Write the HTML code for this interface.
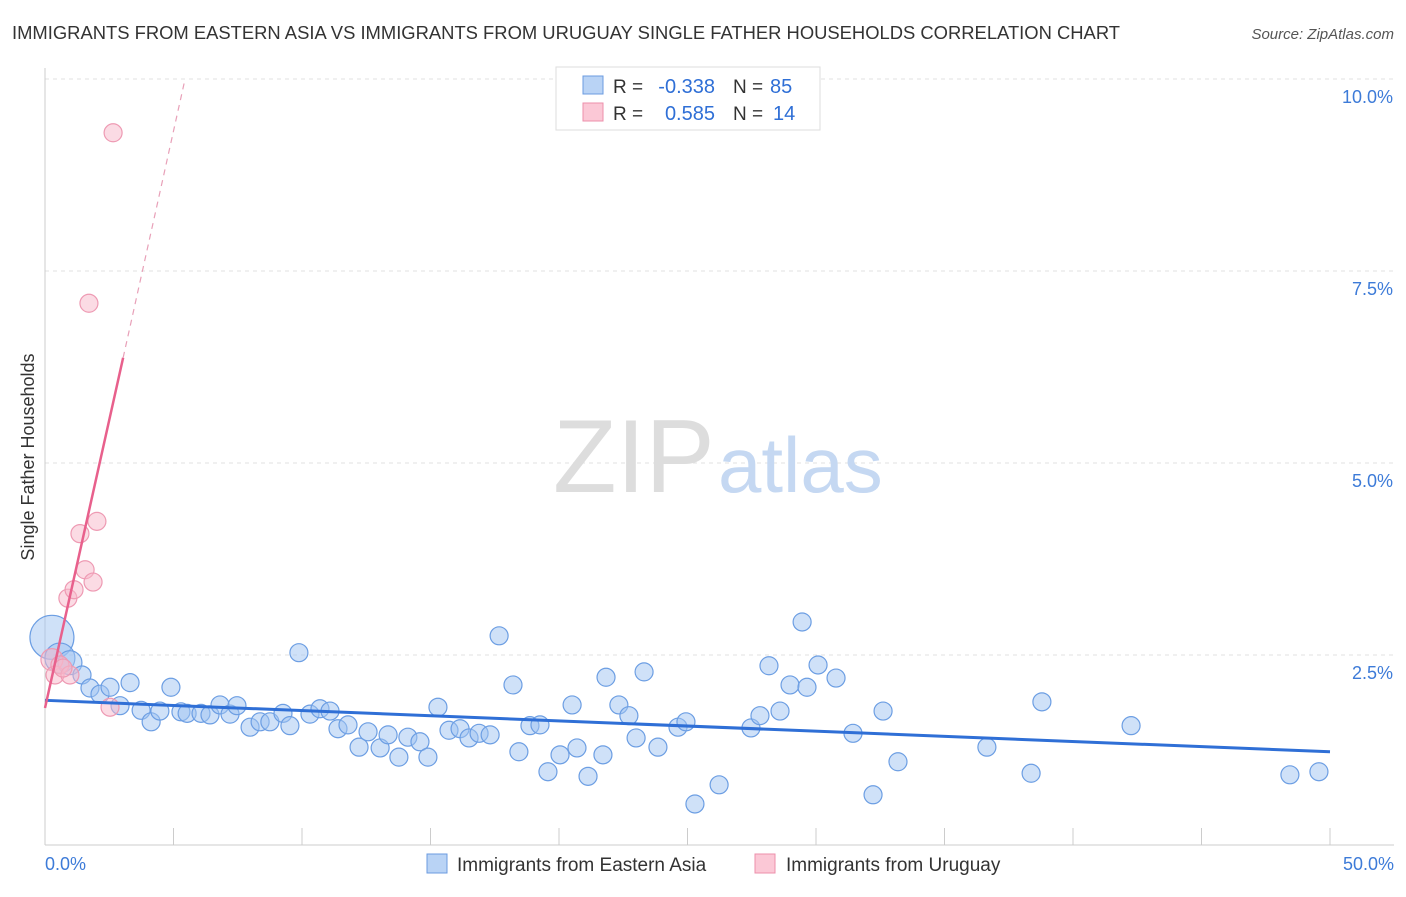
<!DOCTYPE html>
<html><head><meta charset="utf-8"><style>
body{margin:0;background:#fff;font-family:"Liberation Sans",sans-serif;}
svg text{font-family:"Liberation Sans",sans-serif;}
</style></head><body>
<svg width="1406" height="892">
<text x="12" y="39" font-size="18.4" fill="#333">IMMIGRANTS FROM EASTERN ASIA VS IMMIGRANTS FROM URUGUAY SINGLE FATHER HOUSEHOLDS CORRELATION CHART</text>
<text x="1394" y="39" font-size="15" fill="#555" text-anchor="end" font-style="italic">Source: ZipAtlas.com</text>
<g id="grid"></g>
<text x="553" y="492" font-size="104" fill="#ddd" font-family="Liberation Serif,serif">ZIP</text>
<text x="718" y="492" font-size="78" fill="#c5d8f2">atlas</text>
<g id="marks"></g>
<text transform="translate(34,457) rotate(-90)" font-size="18" fill="#333" text-anchor="middle">Single Father Households</text>
<text x="45" y="870" font-size="18" fill="#3d7bd8">0.0%</text>
<text x="1394" y="870" font-size="18" fill="#3d7bd8" text-anchor="end">50.0%</text>
<g>
<rect x="556" y="67" width="264" height="63" fill="#fff" stroke="#ddd"/>
<rect x="583" y="76" width="20" height="18" fill="#b9d3f5" stroke="#6b9be0"/>
<rect x="583" y="103" width="20" height="18" fill="#fbc8d6" stroke="#ec8fab"/>
<text x="613" y="93" font-size="19" fill="#333">R =</text>
<text x="715" y="93" font-size="20" fill="#2f6fd6" text-anchor="end">-0.338</text>
<text x="733" y="93" font-size="19" fill="#333">N =</text>
<text x="770" y="93" font-size="20" fill="#2f6fd6">85</text>
<text x="613" y="120" font-size="19" fill="#333">R =</text>
<text x="715" y="120" font-size="20" fill="#2f6fd6" text-anchor="end">0.585</text>
<text x="733" y="120" font-size="19" fill="#333">N =</text>
<text x="773" y="120" font-size="20" fill="#2f6fd6">14</text>
</g>
<g>
<rect x="427" y="854" width="20" height="19" fill="#b9d3f5" stroke="#6b9be0"/>
<text x="457" y="871" font-size="19" fill="#333">Immigrants from Eastern Asia</text>
<rect x="755" y="854" width="20" height="19" fill="#fbc8d6" stroke="#ec8fab"/>
<text x="786" y="871" font-size="19" fill="#333">Immigrants from Uruguay</text>
</g>
</svg>
<script>
const yTicks=[2.5,5.0,7.5,10.0];
const xTicks=[0,5,10,15,20,25,30,35,40,45,50];
const blueX=[0.27,0.58,0.97,1.44,1.75,2.14,2.53,2.92,3.31,3.74,4.13,4.47,4.90,5.29,5.53,6.07,6.42,6.81,7.20,7.47,7.98,8.37,8.75,9.26,9.53,9.88,10.31,10.70,11.09,11.40,11.79,12.22,12.57,13.04,13.35,13.77,14.12,14.59,14.90,15.29,15.72,16.15,16.50,16.89,17.32,17.67,18.21,18.44,18.87,19.26,19.57,20.04,20.51,20.70,21.13,21.71,21.83,22.33,22.72,23.00,23.31,23.85,24.63,24.94,25.29,26.23,27.47,27.82,28.17,28.60,28.99,29.46,29.65,30.08,30.78,31.44,32.22,32.61,33.19,36.65,38.37,38.79,42.26,48.44,49.57];
const blueY=[2.73,2.46,2.40,2.24,2.07,1.99,2.08,1.84,2.14,1.78,1.63,1.77,2.08,1.76,1.74,1.74,1.72,1.85,1.73,1.84,1.56,1.63,1.63,1.74,1.58,2.53,1.73,1.80,1.77,1.54,1.59,1.30,1.50,1.29,1.46,1.17,1.43,1.37,1.17,1.82,1.52,1.54,1.42,1.48,1.46,2.75,2.11,1.24,1.58,1.59,0.98,1.20,1.85,1.29,0.92,1.20,2.21,1.85,1.71,1.42,2.28,1.30,1.56,1.63,0.56,0.81,1.55,1.71,2.36,1.77,2.11,2.93,2.08,2.37,2.20,1.48,0.68,1.77,1.11,1.30,0.96,1.89,1.58,0.94,0.98];
const pinkX=[0.27,0.39,0.58,0.89,0.97,1.13,1.36,1.56,1.71,1.87,2.02,2.53,2.65,0.70];
const pinkY=[2.44,2.24,2.37,3.24,2.24,3.35,4.08,3.61,7.08,3.45,4.24,1.82,9.30,2.33];
const ns="http://www.w3.org/2000/svg";
const X0=45,X1=1330,Y0=847,YS=76.8;
function sx(v){return X0+(v/50)*(X1-X0);}
function sy(v){return Y0-v*YS;}
function mk(tag,attrs,parent){const e=document.createElementNS(ns,tag);for(const k in attrs)e.setAttribute(k,attrs[k]);parent.appendChild(e);return e;}
const grid=document.getElementById('grid'),marks=document.getElementById('marks'),svg=document.querySelector('svg');
yTicks.forEach(t=>{
 const l=mk('line',{x1:45,x2:1394,y1:sy(t),y2:sy(t),stroke:'#e2e2e2','stroke-dasharray':'4,4'},grid);
 
 
 const tx=mk('text',{x:1393,y:sy(t)+24,'font-size':18,fill:'#3d7bd8','text-anchor':'end'},svg);
 tx.textContent=t.toFixed(1)+'%';
 
 
});
mk('line',{x1:45,x2:45,y1:68,y2:845,stroke:'#ccc'},grid);
mk('line',{x1:45,x2:1394,y1:845,y2:845,stroke:'#ccc'},grid);
xTicks.forEach(t=>{
 const l=mk('line',{x1:sx(t),x2:sx(t),y1:828,y2:845,stroke:'#ccc'},grid);
 
 
});
blueX.forEach((v,i)=>{
 const r=i==0?22:(i==1?15:(i==2?12:9));
 const c=mk('circle',{cx:sx(v),cy:sy(blueY[i]),r:r,fill:'rgba(160,196,242,0.5)',stroke:'#6c9ee3','stroke-width':1.2},marks);
 
 
});
pinkX.forEach((v,i)=>{
 const c=mk('circle',{cx:sx(v),cy:sy(pinkY[i]),r:i==0?11:9,fill:'rgba(248,184,202,0.5)',stroke:'#ee9ab3','stroke-width':1.2},marks);
 
 
});
const bl=mk('line',{x1:sx(0),y1:sy(1.91),x2:sx(50),y2:sy(1.24),stroke:'#2f6fd6','stroke-width':3},marks);


const pl=mk('line',{x1:sx(0),y1:sy(1.81),x2:sx(3.04),y2:sy(6.37),stroke:'#e8608c','stroke-width':2.5},marks);


const pd=mk('line',{x1:sx(3.04),y1:sy(6.37),x2:sx(5.45),y2:sy(10.0),stroke:'#e8a0b8','stroke-width':1.2,'stroke-dasharray':'6,5'},marks);


</script>
</body></html>
